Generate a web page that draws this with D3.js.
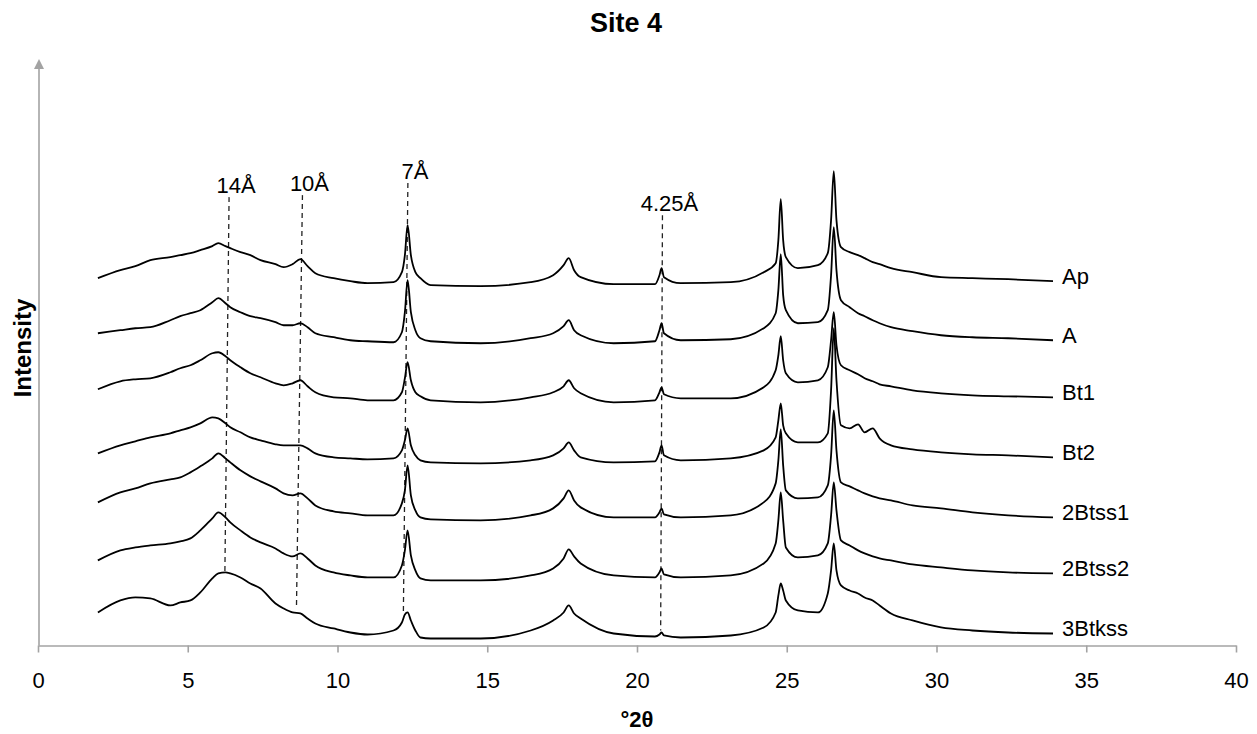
<!DOCTYPE html>
<html>
<head>
<meta charset="utf-8">
<script src="https://cdn.jsdelivr.net/npm/d3@7"></script>
<style>
  html, body { margin: 0; padding: 0; background: #fff; }
  svg { display: block; }
  text { font-family: "Liberation Sans", Arial, sans-serif; fill: #000; }
</style>
</head>
<body>
<svg id="chart" width="1257" height="734"></svg>
<script>
// ---------------- DATA ----------------
const title = "Site 4";
const xLabel = "°2θ";
const yLabel = "Intensity";
const xTicks = [0, 5, 10, 15, 20, 25, 30, 35, 40];
const yMax = 586; // top of the (unlabelled) intensity axis

// common 2θ sampling positions (degrees)
const twoTheta = [2.0, 2.75, 3.25, 3.75, 4.42, 4.75, 5.09, 5.42, 5.82, 6.02,
  6.26, 6.42, 6.76, 7.09, 7.43, 7.93, 8.20, 8.50, 8.76, 9.00,
  9.26, 9.87, 10.43, 11.0, 11.87, 12.15, 12.25, 12.34, 12.45, 12.6,
  12.77, 13.11, 14.78, 16.45, 17.2, 17.55, 17.72, 17.9, 18.12, 19.22,
  20.6, 20.75, 20.82, 20.9, 21.46, 23.13, 24.23, 24.63, 24.72, 24.80,
  24.88, 24.97, 25.37, 26.04, 26.37, 26.48, 26.57, 26.66, 26.81, 27.1,
  27.38, 27.6, 27.87, 28.1, 28.48, 29.2, 30.15, 31.2, 32.39, 33.89];

const horizons = ["Ap", "A", "Bt1", "Bt2", "2Btss1", "2Btss2", "3Btkss"];

// stacked intensities (arbitrary units, already offset)
const ap = [367,375,379,385,388,390,392,395,399,402,
  399,397,393,390,385,381,378,381,386,379,
  372,367,364,362,363,373,390,420,390,373,
  367,360,359,363,370,380,387,375,368,361,
  361,370,377,368,362,363,373,382,405,446,
  405,388,377,380,392,425,474,425,398,393,
  390,387,383,381,377,373,368,367,366,364];
const a = [312,315,317,318,325,329,332,335,343,347,
  342,338,333,329,327,323,320,320,322,318,
  312,308,305,304,303,313,333,365,333,315,
  307,304,302,307,312,319,325,315,310,302,
  304,315,322,312,305,306,317,332,355,391,
  350,335,322,323,335,370,418,375,345,338,
  332,329,325,322,318,314,310,308,307,305];
const bt1 = [256,264,266,267,273,277,280,285,292,293,
  289,285,278,272,268,262,260,262,265,259,
  253,248,247,245,245,253,267,283,265,253,
  249,245,243,248,253,259,265,257,252,243,
  245,253,258,251,247,247,258,275,290,309,
  285,272,263,265,278,305,333,300,280,275,
  271,267,264,261,259,255,252,250,249,248];
const bt2 = [192,200,204,208,212,215,218,222,228,227,
  222,218,213,208,205,201,200,200,200,197,
  192,188,187,186,187,195,205,217,200,190,
  185,183,182,185,190,197,203,195,188,183,
  184,193,200,190,185,187,195,208,225,242,
  220,212,203,203,212,255,317,265,220,217,
  221,213,217,207,200,196,193,191,190,188];
const btss1 = [143,153,157,162,166,168,173,179,187,192,
  187,183,175,169,164,157,152,150,152,147,
  140,134,132,130,130,142,155,180,150,135,
  128,126,125,130,137,147,155,145,138,128,
  128,133,137,131,128,130,143,162,185,216,
  180,155,147,148,160,190,235,195,163,159,
  155,152,149,147,145,140,137,133,130,128];
const btss2 = [85,95,98,100,102,104,107,115,127,133,
  128,123,115,108,103,97,92,89,92,87,
  80,73,70,68,68,80,95,115,90,75,
  67,65,65,70,77,87,96,89,82,70,
  68,73,77,71,68,70,82,102,125,153,
  125,98,88,90,102,130,163,135,105,100,
  95,92,89,87,85,81,78,75,73,72];
const btkss = [33,45,48,47,40,43,45,53,67,72,
  73,72,68,62,57,42,37,33,32,27,
  22,17,13,11,15,23,31,33,25,15,
  8,7,7,15,25,33,40,32,27,12,
  9,11,13,10,8,10,18,33,50,62,
  55,45,35,33,52,75,102,75,60,55,
  52,48,45,40,32,25,18,15,13,12];

// d-spacing reference lines
const markerLabels = ["14Å", "10Å", "7Å", "4.25Å"];
const markerTopX = [6.38, 8.83, 12.35, 20.85];
const markerBottomX = [6.24, 8.63, 12.20, 20.79];
const markerTopY = [448, 450, 462, 430];
const markerBottomY = [73, 38, 33, 15];

// ---------------- CHART ----------------
const series = [ap, a, bt1, bt2, btss1, btss2, btkss];
const svg = d3.select("#chart");
const axisColor = "#a3a3a3";

const x = d3.scaleLinear().domain([0, 40]).range([38, 1236]);
const y = d3.scaleLinear().domain([0, yMax]).range([645.5, 59]);

// title
svg.append("text")
  .attr("x", 626).attr("y", 32)
  .attr("text-anchor", "middle")
  .style("font-size", "27px").style("font-weight", "bold")
  .text(title);

// x axis
const xAxis = svg.append("g")
  .attr("transform", `translate(0,${y(0)})`)
  .call(d3.axisBottom(x).tickValues(xTicks).tickFormat(d3.format("d"))
    .tickSize(7).tickSizeOuter(0).tickPadding(20));
xAxis.select(".domain").attr("stroke", axisColor).attr("stroke-width", 1.6);
xAxis.selectAll(".tick line").attr("stroke", axisColor).attr("stroke-width", 1.6);
xAxis.selectAll(".tick text")
  .style("font-size", "22px")
  .style("font-family", "'Liberation Sans', Arial, sans-serif")
  .attr("fill", "#000");

// y axis with arrow
svg.append("line")
  .attr("x1", x(0) + 1).attr("x2", x(0) + 1)
  .attr("y1", y(0)).attr("y2", y(yMax) + 8)
  .attr("stroke", axisColor).attr("stroke-width", 1.6);
svg.append("path")
  .attr("d", d3.line()([[x(0) + 1 - 5, y(yMax) + 10], [x(0) + 1, y(yMax)], [x(0) + 1 + 5, y(yMax) + 10]]) + "Z")
  .attr("fill", axisColor);

// axis labels
svg.append("text")
  .attr("x", 637).attr("y", 727)
  .attr("text-anchor", "middle")
  .style("font-size", "22px").style("font-weight", "bold")
  .text(xLabel);
svg.append("text")
  .attr("transform", "translate(31,348) rotate(-90)")
  .attr("text-anchor", "middle")
  .style("font-size", "24px").style("font-weight", "bold")
  .text(yLabel);

// dashed reference lines
markerLabels.forEach((lab, i) => {
  svg.append("line")
    .attr("x1", x(markerTopX[i])).attr("y1", y(markerTopY[i]))
    .attr("x2", x(markerBottomX[i])).attr("y2", y(markerBottomY[i]))
    .attr("stroke", "#222").attr("stroke-width", 1.3)
    .attr("stroke-dasharray", "5,4");
  svg.append("text")
    .attr("x", x(markerTopX[i]) + 7).attr("y", y(markerTopY[i]) - 4)
    .attr("text-anchor", "middle")
    .style("font-size", "22px")
    .text(lab);
});

// diffraction traces
const line = d3.line()
  .x((d, i) => x(twoTheta[i]))
  .y(d => y(d))
  .curve(d3.curveMonotoneX);

series.forEach((vals, k) => {
  svg.append("path")
    .datum(vals)
    .attr("d", line)
    .attr("fill", "none")
    .attr("stroke", "#000")
    .attr("stroke-width", 1.8)
    .attr("stroke-linejoin", "round");
  const last = vals[vals.length - 1];
  svg.append("text")
    .attr("x", x(twoTheta[twoTheta.length - 1]) + 9)
    .attr("y", y(last) + 3)
    .style("font-size", "22px")
    .text(horizons[k]);
});
</script>
</body>
</html>
